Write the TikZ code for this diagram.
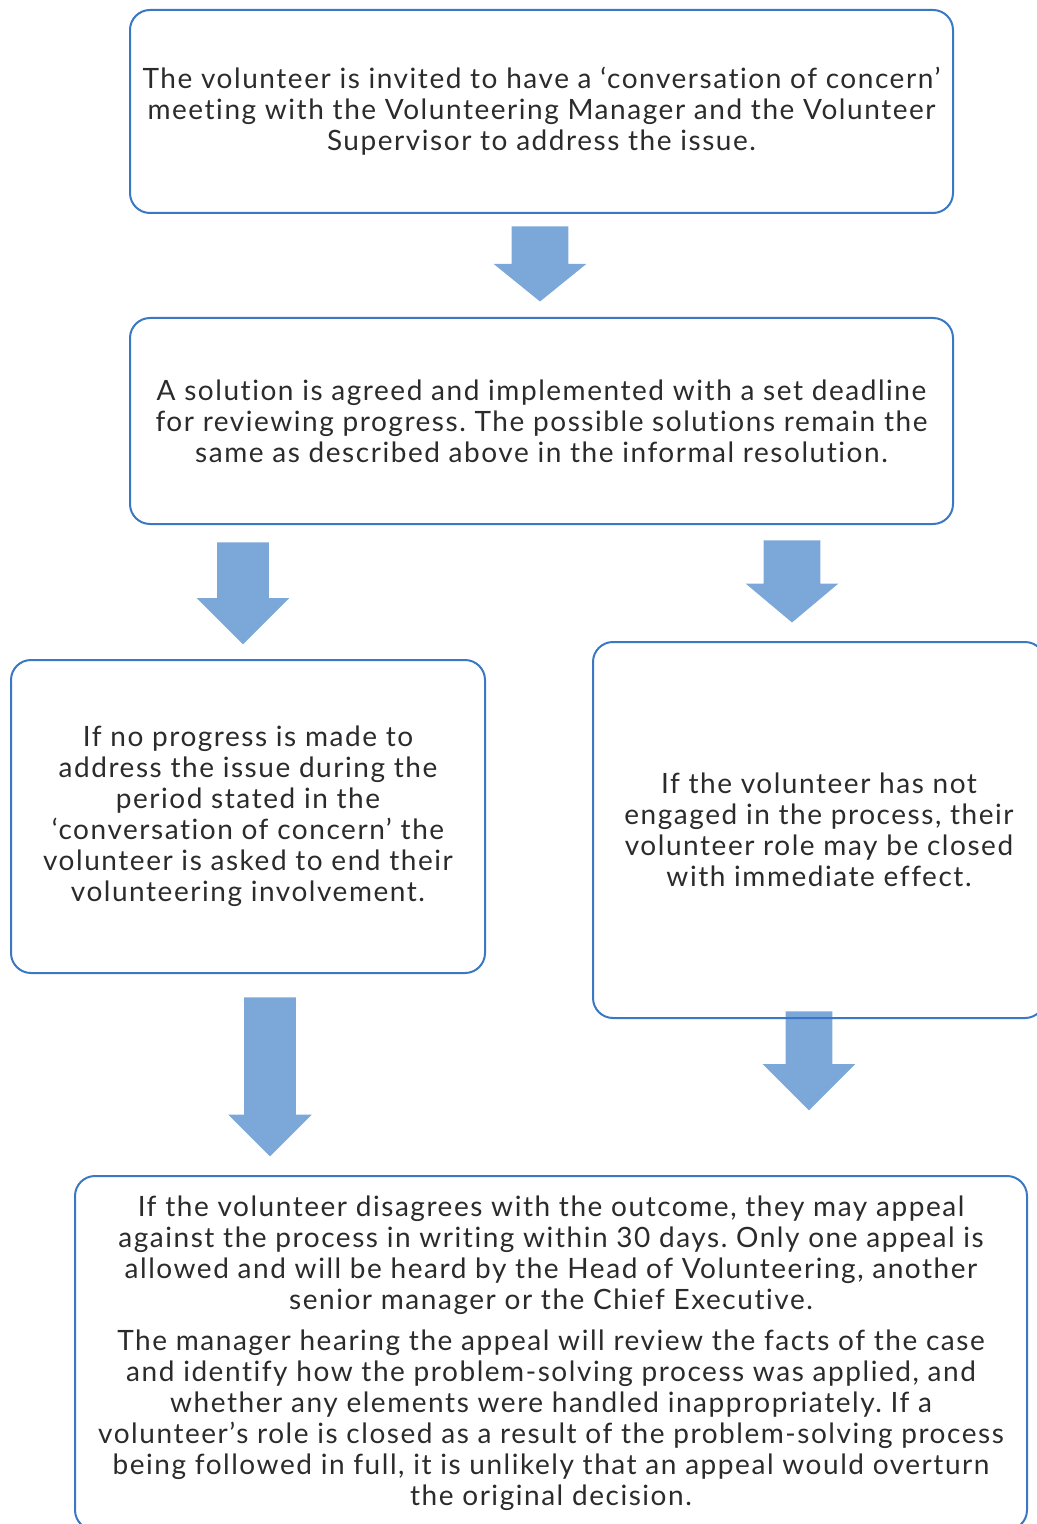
\documentclass[tikz,border=0pt]{standalone}
\usepackage{fontspec}
\setmainfont{Lato}
\newfontfamily\boxfont{Lato}[LetterSpace=5.5, Ligatures=NoCommon]
\usetikzlibrary{shapes.arrows}

\definecolor{boxblue}{HTML}{3A78C4}
\definecolor{arrowblue}{HTML}{7CA8D9}
\definecolor{textgrey}{HTML}{2B2B2B}

\tikzset{
  stepbox/.style={draw=boxblue, line width=1pt, rounded corners=10pt,
    align=center, text=textgrey, inner sep=0pt,
    font=\boxfont\fontsize{14}{15.5}\selectfont\frenchspacing},
  downarrow/.style={single arrow, fill=arrowblue, draw=none, rotate=-90,
    inner xsep=0pt, single arrow head indent=0pt, anchor=tip}
}

\begin{document}
\begin{tikzpicture}[x=0.5pt, y=-0.5pt]
  \useasboundingbox (0,0) rectangle (1037,1524);
  % block arrows first, the boxes are drawn over them
  \node[downarrow, minimum height=37.5pt, inner ysep=14pt,
    single arrow head extend=9pt, single arrow tip angle=102] (arrA) at (540,302) {};
  \node[downarrow, minimum height=51pt, inner ysep=12.75pt,
    single arrow head extend=10.25pt] (arrB) at (243,645) {};
  \node[downarrow, minimum height=41pt, inner ysep=14pt,
    single arrow head extend=9pt, single arrow tip angle=100] (arrC) at (792,623) {};
  \node[downarrow, minimum height=79.5pt, inner ysep=12.75pt,
    single arrow head extend=8pt] (arrD) at (270,1157) {};
  \node[downarrow, minimum height=49.5pt, inner ysep=11.5pt,
    single arrow head extend=11.5pt] (arrE) at (809,1111) {};
  % boxes
  \node[stepbox, minimum width=411.5pt, minimum height=101.5pt] (invite) at (541.5,111.5)
    {The volunteer is invited to have a ‘conversation of concern’\\
     meeting with the Volunteering Manager and the Volunteer\\
     Supervisor to address the issue.};
  \node[stepbox, minimum width=411.5pt, minimum height=103pt] (solution) at (541.5,421)
    {A solution is agreed and implemented with a set deadline\\
     for reviewing progress. The possible solutions remain the\\
     same as described above in the informal resolution.};
  \node[stepbox, minimum width=237pt, minimum height=156.5pt] (noprogress) at (248,816.5)
    {If no progress is made to\\
     address the issue during the\\
     period stated in the\\
     ‘conversation of concern’ the\\
     volunteer is asked to end their\\
     volunteering involvement.};
  \node[stepbox, minimum width=226pt, minimum height=188pt] (notengaged) at (819,830)
    {If the volunteer has not\\
     engaged in the process, their\\
     volunteer role may be closed\\
     with immediate effect.};
  \node[stepbox, minimum width=476pt, minimum height=177pt] (appeal) at (551,1353)
    {If the volunteer disagrees with the outcome, they may appeal\\
     against the process in writing within 30 days. Only one appeal is\\
     allowed and will be heard by the Head of Volunteering, another\\
     senior manager or the Chief Executive.\\[5pt]
     The manager hearing the appeal will review the facts of the case\\
     and identify how the problem-solving process was applied, and\\
     whether any elements were handled inappropriately. If a\\
     volunteer’s role is closed as a result of the problem-solving process\\
     being followed in full, it is unlikely that an appeal would overturn\\
     the original decision.};
\end{tikzpicture}
\end{document}
